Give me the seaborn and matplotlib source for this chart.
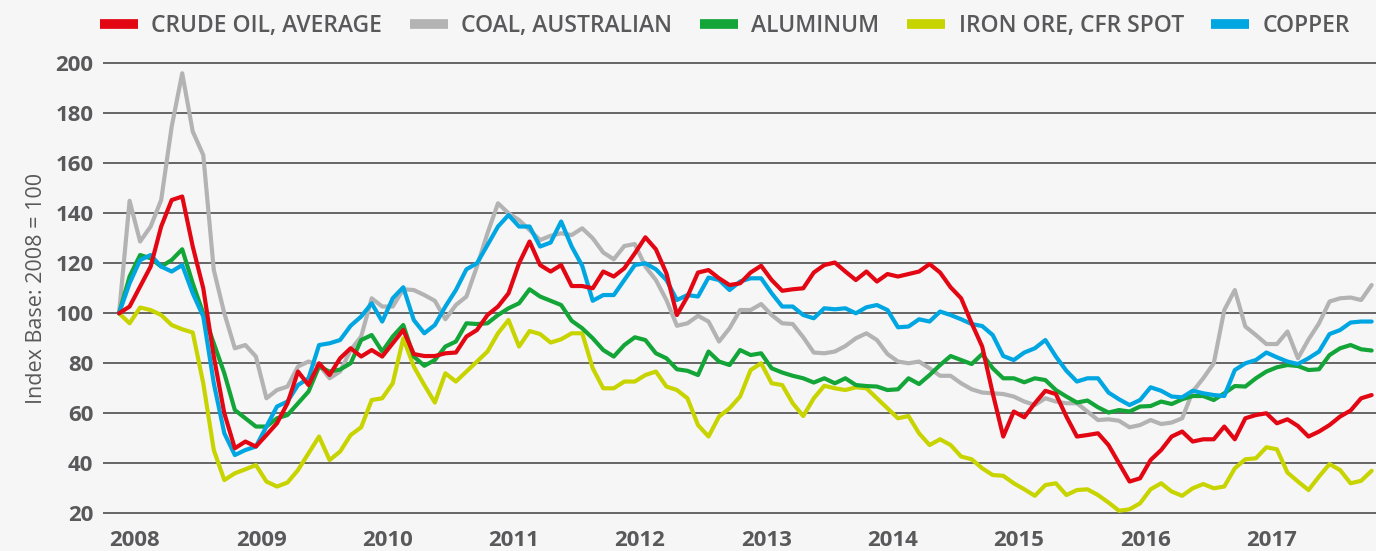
import numpy as np
import pandas as pd
import matplotlib.pyplot as plt
import seaborn as sns

# monthly index values, Jan 2008 - Dec 2017 (2008 = 100)
crude_oil = [100, 102.7, 110.7, 118.7, 134.7, 145.3, 146.7, 126.7, 110, 82.7,
             60, 46, 48.7, 46.7, 51.3, 56, 64, 76.7, 71.3, 80,
             75.3, 82, 86, 82.7, 85.3, 82.7, 88, 93.3, 83.7, 82.9,
             82.9, 84, 84.3, 90.7, 93.3, 99.3, 102.7, 108, 120, 128.7,
             119.3, 116.7, 119.3, 110.9, 110.9, 110, 116.7, 114.7, 118, 124,
             130.4, 125.6, 116, 99.3, 106.7, 116.3, 117.3, 114, 111.3, 112,
             116.3, 119, 113.3, 109, 109.6, 110, 116.3, 119.3, 120.3, 116.7,
             113.3, 116.7, 112.7, 115.7, 114.7, 115.7, 116.7, 119.7, 116.3, 110.4,
             106, 96, 86.7, 68, 50.7, 60.7, 58.4, 64, 69, 67.7,
             58.7, 50.7, 51.3, 52, 47.3, 40, 32.7, 34, 41.3, 45.3,
             50.7, 52.7, 48.7, 49.6, 49.6, 54.7, 49.6, 58, 59.3, 60,
             56, 57.6, 54.9, 50.7, 52.7, 55.3, 58.7, 61.1, 66, 67.3]

coal = [100, 145, 128.7, 134.7, 145.3, 174.7, 196, 172.7, 163.3, 117.3,
        100, 86, 87.3, 82.7, 66, 69.3, 70.7, 78.7, 80.7, 79.3,
        74, 76.7, 85.3, 90.7, 106, 102.7, 102.7, 109.6, 109.3, 107.3,
        105, 97.6, 103.3, 106.7, 118.7, 132, 144, 140, 137.3, 133.3,
        129.3, 131, 132, 131.3, 134, 130, 124.3, 121.6, 126.9, 127.7,
        118.7, 113.3, 105.3, 95, 96, 99, 96.7, 88.7, 94, 101.3,
        101.3, 103.7, 99.3, 96, 95.7, 90.4, 84.3, 84, 84.7, 86.9,
        90, 92, 89.3, 83.7, 80.7, 80, 80.7, 78, 75, 75,
        72, 69.6, 68.3, 68, 67.7, 66.7, 64.7, 63.3, 66, 64.7,
        64, 64, 60.7, 57.3, 57.6, 57, 54.4, 55.3, 57.3, 55.7,
        56.3, 58, 68.7, 74, 80, 101.3, 109.3, 94.7, 91.3, 87.7,
        87.7, 92.7, 82, 89.5, 96, 104.7, 106, 106.3, 105.3, 111.3]

aluminum = [100, 114.7, 123.3, 122, 118.7, 121.3, 125.6, 112, 100, 88,
            76, 61.3, 58, 54.7, 54.7, 58, 59.3, 64, 68.7, 78.7,
            76.7, 77.5, 80, 89.3, 91.3, 84.7, 90.7, 95.3, 82.7, 79,
            81.3, 86.7, 88.7, 96, 95.7, 96, 99.3, 102, 104, 109.6,
            106.7, 105, 103.3, 97, 94, 90, 85.3, 82.7, 87.3, 90.4,
            89.3, 84, 82, 77.6, 77, 75.3, 84.7, 80.7, 79.3, 85.3,
            83.3, 84, 78, 76.3, 75, 74, 72.3, 74, 72, 74,
            71.3, 70.9, 70.7, 69.3, 69.6, 74, 71.7, 75.3, 79.3, 82.9,
            81.3, 79.7, 83.7, 78, 74, 74, 72.4, 74, 73.3, 69.3,
            66.7, 64.3, 65.1, 62.4, 60.3, 61.3, 60.7, 62.7, 62.9, 64.7,
            63.7, 65.6, 66.9, 66.9, 65.3, 68, 70.9, 70.7, 74, 76.7,
            78.4, 79.3, 78.9, 77.3, 77.6, 83.3, 86, 87.3, 85.6, 85.1]

iron_ore = [100, 96, 102.3, 101.3, 99.3, 95.3, 93.6, 92.3, 72, 45.3,
            33.3, 36, 37.6, 39.3, 32.7, 30.7, 32.3, 37.3, 44, 50.7,
            41.3, 44.7, 51.3, 54.4, 65.3, 66, 72, 90, 78.7, 71.3,
            64.3, 76, 72.7, 76.7, 80.7, 84.7, 92, 97.3, 86.7, 92.9,
            91.7, 88.3, 89.6, 92, 92, 78, 70, 70, 72.7, 72.7,
            75.3, 76.7, 70.7, 69.3, 66, 55.3, 50.7, 58.7, 62, 66.7,
            77.3, 80, 72, 71.3, 64, 58.9, 66, 71, 70, 69.3,
            70.4, 70, 66, 62, 58, 58.9, 52, 47.3, 49.6, 47.3,
            42.7, 41.6, 38, 35.3, 35, 32, 29.6, 27, 31.3, 32,
            27.3, 29.3, 29.6, 27.3, 24.3, 21, 21.6, 24, 29.6, 32,
            28.7, 27, 30, 31.7, 30, 30.7, 38, 41.6, 42, 46.4,
            45.6, 36.3, 32.7, 29.3, 34.7, 39.7, 37.3, 32, 33, 37]

copper = [100, 112, 121.3, 123.3, 118.7, 116.7, 119.3, 108, 98.7, 72,
          52, 43.3, 45.3, 46.7, 54.7, 62.7, 64.7, 71.3, 74, 87.3,
          88, 89.3, 95, 98.7, 104, 96.7, 106, 110.4, 97.3, 92,
          95.3, 102.7, 109.3, 117.6, 120, 127.3, 134.7, 139.3, 134.7, 134.7,
          126.7, 128.3, 136.7, 126.7, 119, 105, 107.3, 107.3, 113.3, 119.3,
          120, 117.6, 113.3, 105.3, 107.3, 106.7, 114.3, 113.3, 109.3, 112.7,
          114, 114, 108, 102.7, 102.7, 99.3, 98, 102, 101.6, 102,
          100, 102.4, 103.3, 101.3, 94.4, 94.7, 97.6, 96.7, 100.7, 99.3,
          97.6, 95.7, 94.9, 91.3, 82.9, 81.3, 84.3, 86, 89.3, 82.7,
          77, 72.7, 74, 74, 68.3, 65.6, 63.3, 65.3, 70.4, 69,
          66.7, 66.4, 69, 68, 67.3, 66.9, 77.3, 80, 81.3, 84.3,
          82.4, 80.7, 79.7, 82, 84.7, 91.7, 93.3, 96.3, 96.7, 96.7]

years = ['2008', '2009', '2010', '2011', '2012', '2013', '2014', '2015', '2016', '2017']
legend_order = ['CRUDE OIL, AVERAGE', 'COAL, AUSTRALIAN', 'ALUMINUM', 'IRON ORE, CFR SPOT', 'COPPER']

colors = {'CRUDE OIL, AVERAGE': '#E30613',
          'COAL, AUSTRALIAN': '#B3B3B3',
          'ALUMINUM': '#13A538',
          'IRON ORE, CFR SPOT': '#C8D400',
          'COPPER': '#00A6E2'}

df = pd.DataFrame({'month': np.arange(len(crude_oil)),
                   'CRUDE OIL, AVERAGE': crude_oil,
                   'COAL, AUSTRALIAN': coal,
                   'ALUMINUM': aluminum,
                   'IRON ORE, CFR SPOT': iron_ore,
                   'COPPER': copper})
long_df = df.melt(id_vars='month', var_name='commodity', value_name='index')

sns.set_style('white')
plt.rcParams['font.family'] = ['Open Sans', 'DejaVu Sans']
text_col = '#59595B'
bg = '#F6F6F6'

fig = plt.figure(figsize=(13.76, 5.51), dpi=100, facecolor=bg)
ax = fig.add_axes([0.0749, 0.0639, 0.925, 0.8258], facecolor=bg)

# draw order: red on top
draw_order = ['IRON ORE, CFR SPOT', 'COAL, AUSTRALIAN', 'ALUMINUM', 'COPPER', 'CRUDE OIL, AVERAGE']
sns.lineplot(data=long_df, x='month', y='index', hue='commodity', hue_order=draw_order,
             palette=colors, linewidth=3, ax=ax)

ax.set_xlim(-1.52, 119.4)
ax.set_ylim(19, 201)
ax.set_yticks(range(20, 201, 20))
ax.set_xticks([12 * k + 1.5 for k in range(len(years))])
ax.set_xticklabels(years)
for s in ax.spines.values():
    s.set_visible(False)
ax.grid(axis='y', color='#4D4D4D', linewidth=1.2)
ax.set_axisbelow(True)
ax.tick_params(axis='both', length=0, colors=text_col, labelsize=16)
ax.tick_params(axis='y', pad=7)
ax.tick_params(axis='x', pad=10)
for lab in ax.get_xticklabels() + ax.get_yticklabels():
    lab.set_fontweight('bold')
ax.set_xlabel('')
ax.set_ylabel('Index Base: 2008 = 100', color=text_col, fontsize=15.5, labelpad=6)

handles, labels = ax.get_legend_handles_labels()
ax.get_legend().remove()
hmap = dict(zip(labels, handles))
leg = fig.legend([hmap[l] for l in legend_order], legend_order, loc='center',
                 bbox_to_anchor=(0.527, 0.953), ncol=5, frameon=False,
                 handlelength=1.65, handletextpad=0.6, columnspacing=1.2,
                 prop={'weight': 'semibold', 'size': 16.5})
for t in leg.get_texts():
    t.set_color(text_col)
for h in leg.legend_handles:
    h.set_linewidth(7)
    h.set_solid_capstyle('butt')

fig.savefig('out.png', dpi=100, facecolor=bg)
